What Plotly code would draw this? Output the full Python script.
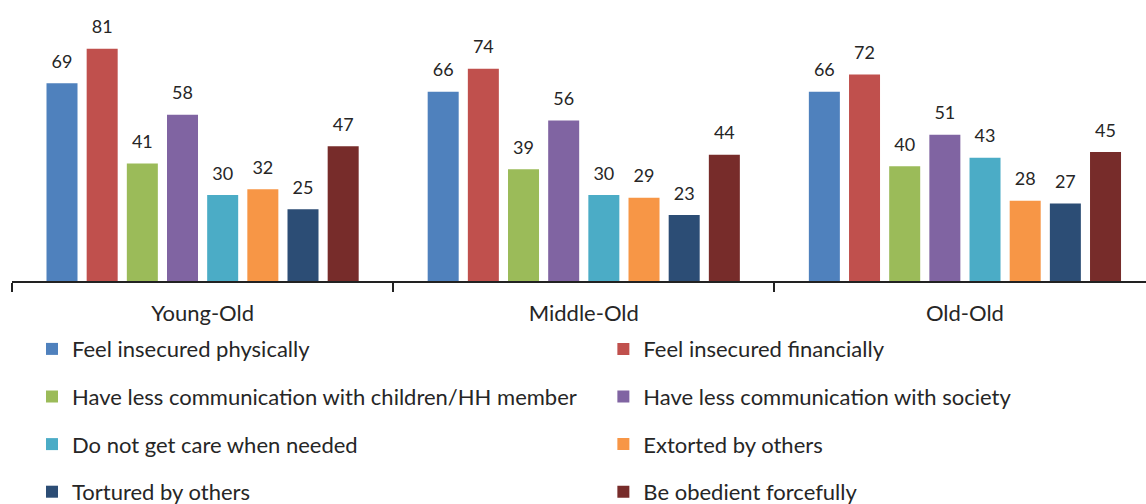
import plotly.graph_objects as go

categories = ["Young-Old", "Middle-Old", "Old-Old"]
series_names = [
    "Feel insecured physically",
    "Feel insecured financially",
    "Have less communication with children/HH member",
    "Have less communication with society",
    "Do not get care when needed",
    "Extorted by others",
    "Tortured by others",
    "Be obedient forcefully",
]
values = [
    [69, 66, 66],
    [81, 74, 72],
    [41, 39, 40],
    [58, 56, 51],
    [30, 30, 43],
    [32, 29, 28],
    [25, 23, 27],
    [47, 44, 45],
]
colors = ["#4F81BD", "#C0504D", "#9BBB59", "#8064A2",
          "#4BACC6", "#F79646", "#2C4D75", "#772C2A"]

FONT = "Lato"
TXT = "#262626"

fig = go.Figure()
for i, (name, vals, col) in enumerate(zip(series_names, values, colors)):
    fig.add_trace(go.Bar(
        x=categories, y=vals, name=name,
        marker=dict(color=col, line=dict(width=0)),
        texttemplate="<span style='font-size:18px'>%{y}</span><br> ",
        textposition="outside",
        textfont=dict(family=FONT, size=8, color=TXT),
        cliponaxis=False,
        legend="legend" if i % 2 == 0 else "legend2",
        legendgroup=name,
    ))

legend_common = dict(
    orientation="v",
    font=dict(family=FONT, size=22, color=TXT),
    bgcolor="rgba(0,0,0,0)",
    tracegroupgap=16,
    xref="container",
    yref="container",
    yanchor="top",
    xanchor="left",
    itemwidth=30,
)

fig.update_layout(
    width=1146, height=504,
    margin=dict(l=12, r=0, t=23, b=223, autoexpand=False),
    paper_bgcolor="white", plot_bgcolor="white",
    barmode="group",
    bargap=0.157,
    bargroupgap=0.228,
    showlegend=True,
    legend=dict(x=0.0279, y=0.349, **legend_common),
    legend2=dict(x=0.5265, y=0.349, **legend_common),
    xaxis=dict(
        type="category",
        range=[-0.5, 2.475],
        showline=True, linecolor="#222222", linewidth=2,
        ticks="outside", tickson="boundaries", ticklen=9,
        tickcolor="#222222", tickwidth=1.5,
        tickfont=dict(family=FONT, size=22, color=TXT),
        ticklabelstandoff=12,
        showgrid=False,
    ),
    yaxis=dict(
        range=[0, 90], visible=False, showgrid=False, zeroline=False,
    ),
)

fig.write_html("out.html")
